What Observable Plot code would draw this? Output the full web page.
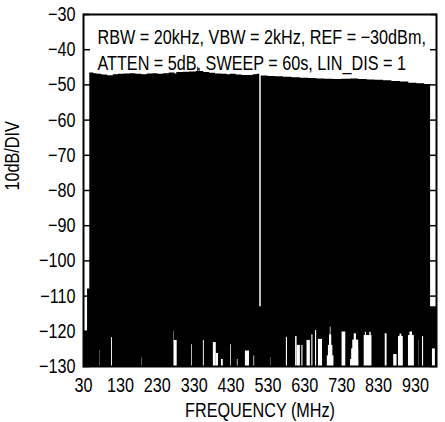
<!DOCTYPE html>
<html><head><meta charset="utf-8">
<script src="https://cdn.jsdelivr.net/npm/d3@7"></script>
<script src="https://cdn.jsdelivr.net/npm/@observablehq/plot@0.6"></script>
<style>body{margin:0;background:#fff;}</style>
</head><body><div id="chart"></div>
<script>
// ---- data ----
const freqDomain = [30, 987];
const levelDomain = [-130, -30];
const xTicks = [30, 130, 230, 330, 430, 530, 630, 730, 830, 930];
const yTicks = [-130, -120, -110, -100, -90, -80, -70, -60, -50, -40, -30];

// upper envelope of the sweep (MHz, dBm), held until next point
const traceFreq = [30, 41, 47, 58, 67, 80, 95, 111, 125, 140, 157, 172, 188, 203, 218, 232, 247, 262, 278, 283, 300, 318, 336, 339, 341, 356, 372, 388, 405, 420, 428, 444, 460, 474, 490, 501, 507.8, 511.8, 530, 550, 572, 595, 618, 640, 663, 685, 708, 730, 754, 776, 799, 820, 843, 866, 889, 912, 934, 955, 971, 987];
const traceLevel = [-120, -108, -46.6, -46.8, -47.0, -47.2, -47.4, -47.1, -47.0, -46.9, -46.8, -47.0, -47.1, -46.9, -46.8, -47.0, -46.8, -46.6, -46.9, -46.5, -46.4, -46.3, -46.2, -45.0, -46.2, -46.5, -46.7, -46.9, -47.0, -47.1, -47.0, -47.2, -47.3, -47.3, -47.1, -47.0, -113, -47.5, -47.6, -47.7, -47.8, -48.0, -48.1, -48.2, -48.3, -48.4, -48.5, -48.4, -48.3, -48.5, -48.6, -48.7, -48.8, -49.0, -49.2, -49.5, -49.7, -49.9, -113, -113];

// gaps in the noise floor (MHz start, MHz end, top dBm)
const gapStart = [74.6, 106, 187.6, 275, 276, 323, 355, 382, 390, 404, 429, 447, 469, 492, 538.6, 580, 605, 609, 622, 636, 649, 659, 667, 691, 694, 697, 699, 731, 754, 757, 760, 764, 791, 794, 806, 848, 871, 884, 888, 911, 915, 938.4, 949, 976];
const gapEnd   = [75.4, 108.5, 188.6, 276, 284, 325, 357.5, 390, 396, 409, 431, 449, 480, 494, 539.4, 583, 609, 618, 625, 645, 652, 662, 678, 709, 706, 703, 701, 741, 776, 776, 776, 770, 812, 797, 810, 853, 880, 897, 893, 927, 922, 939.2, 952, 984];
const gapTop   = [-125.5, -121.8, -127.5, -120, -122.6, -123.8, -122.6, -123.2, -126.3, -128, -123.8, -128, -125.6, -127, -127.5, -121.7, -121.5, -124, -124, -122.6, -121, -119.8, -122.3, -127, -124, -121, -118.8, -120.2, -128, -125, -122.5, -120.7, -121.2, -120.3, -120.3, -120.7, -126.6, -121.5, -120.8, -121.2, -120.2, -122.6, -121.5, -125];

const noteLines = ["RBW = 20kHz, VBW = 2kHz, REF = \u221230dBm,", "ATTEN = 5dB, SWEEP = 60s, LIN_DIS = 1"];
const xLabel = "FREQUENCY (MHz)";
const yLabel = "10dB/DIV";

// ---- tables ----
const trace = traceFreq.map((f, i) => ({freq: f, level: traceLevel[i]}));
const gaps = gapStart.map((s, i) => ({start: s, end: gapEnd[i], top: gapTop[i]}));

const FONT = '"Liberation Sans", Arial, sans-serif';
const NARROW = 0.81; // horizontal squeeze to imitate a condensed face

const chart = Plot.plot({
  width: 445,
  height: 422,
  marginLeft: 83,
  marginRight: 9,
  marginTop: 14,
  marginBottom: 56,
  style: {fontFamily: FONT, fontSize: "20px", color: "black", background: "white"},
  x: {domain: freqDomain},
  y: {domain: levelDomain},
  marks: [
    Plot.areaY(trace, {x: "freq", y1: () => levelDomain[0], y2: "level", curve: "step-after", fill: "black"}),
    Plot.rect(gaps, {x1: "start", x2: "end", y1: () => levelDomain[0], y2: "top", fill: "white"}),
    Plot.frame({stroke: "black", strokeWidth: 2}),
    Plot.axisY({anchor: "left", ticks: yTicks, tickSize: -7, tickPadding: 15, label: null, strokeWidth: 1.5}),
    Plot.axisY({anchor: "right", ticks: yTicks, tickSize: -7, tickFormat: () => "", label: null, strokeWidth: 1.5}),
    Plot.axisX({anchor: "bottom", ticks: xTicks, tickSize: 0, tickPadding: 11, tickFormat: d => String(d), label: null}),
    Plot.text([noteLines.join("\n")], {text: d => d, frameAnchor: "top-left", textAnchor: "start", lineAnchor: "top", dx: 14, dy: 12, lineHeight: 1.26}),
    Plot.text([xLabel], {text: d => d, frameAnchor: "bottom", lineAnchor: "top", dy: 36}),
    Plot.text([yLabel], {text: d => d, frameAnchor: "left", rotate: -90, dx: -71})
  ]
});
document.getElementById("chart").append(chart);

// squeeze every text horizontally (along its own direction) about its anchor
chart.querySelectorAll("text").forEach(t => {
  if (!t.textContent) return;
  const b = t.getBBox();
  const a = getComputedStyle(t).textAnchor;
  const ax = a === "middle" ? b.x + b.width / 2 : a === "end" ? b.x + b.width : b.x;
  const tr = t.getAttribute("transform") || "";
  t.setAttribute("transform", `${tr} translate(${ax},0) scale(${NARROW},1) translate(${-ax},0)`);
});
</script>
</body></html>
